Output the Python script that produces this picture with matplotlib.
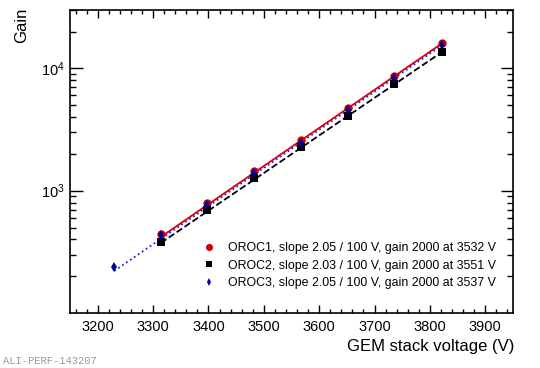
import numpy as np
import matplotlib.pyplot as plt
from matplotlib.ticker import FixedLocator, LogLocator, NullFormatter, MultipleLocator

plt.rcParams['font.family'] = ['Liberation Sans', 'DejaVu Sans']

v_main = [3314, 3398, 3483, 3567, 3652, 3736, 3821]
gain_oroc1 = [445, 793, 1459, 2606, 4765, 8650, 16100]
gain_oroc2 = [382, 695, 1278, 2265, 4066, 7500, 13600]
v_oroc3 = [3230, 3314, 3398, 3483, 3567, 3652, 3736, 3821]
gain_oroc3 = [239, 433, 764, 1405, 2460, 4585, 8400, 15600]

# fit parameters quoted in the legend
slopes = [2.05, 2.03, 2.05]
v_2000 = [3532, 3551, 3537]
labels = ['OROC1, slope 2.05 / 100 V, gain 2000 at 3532 V',
          'OROC2, slope 2.03 / 100 V, gain 2000 at 3551 V',
          'OROC3, slope 2.05 / 100 V, gain 2000 at 3537 V']

fig = plt.figure(figsize=(5.4, 3.68), dpi=100)
ax = fig.add_axes([70/540, 1-313/368, 443/540, 303/368])

series = [(v_main, gain_oroc1), (v_main, gain_oroc2), (v_oroc3, gain_oroc3)]
mark_col = ['#cc0000', 'black', '#000099']
line_col = ['#e00000', 'black', '#2222dd']
line_sty = ['-', '--', ':']
markers = ['o', 's', 'd']
msize = [6, 5.5, 4.8]

for i, (v, g) in enumerate(series):
    vv = np.array([min(v), max(v)])
    fit = 2000 * slopes[i] ** ((vv - v_2000[i]) / 100.0)
    ax.plot(vv, fit, color=line_col[i], ls=line_sty[i], lw=1.3)
for i, (v, g) in enumerate(series):
    ax.plot(v, g, ls='none', marker=markers[i], color=mark_col[i], ms=msize[i],
            mew=0, label=labels[i])

ax.set_yscale('log')
ax.set_xlim(3150, 3950)
ax.set_ylim(100, 30000)
ax.xaxis.set_major_locator(MultipleLocator(100))
ax.xaxis.set_minor_locator(MultipleLocator(20))
ax.yaxis.set_major_locator(FixedLocator([1e3, 1e4]))
ax.yaxis.set_minor_locator(LogLocator(base=10, subs=np.arange(2, 10)))
ax.yaxis.set_minor_formatter(NullFormatter())

ax.tick_params(axis='both', which='both', direction='in', top=True, right=True,
               labelsize=10.5, width=1)
ax.tick_params(axis='x', which='major', length=6)
ax.tick_params(axis='x', which='minor', length=3)
ax.tick_params(axis='y', which='major', length=9)
ax.tick_params(axis='y', which='minor', length=4.5)
ax.tick_params(axis='x', pad=5)
for s in ax.spines.values():
    s.set_linewidth(1.2)

leg = ax.legend(loc='upper left', bbox_to_anchor=(0.286, 0.25), frameon=False,
                fontsize=8.9, handlelength=1.2, handletextpad=0.95,
                labelspacing=0.45, borderaxespad=0, markerscale=0.85)

fig.text(22/540, 1-8/368, 'Gain', rotation=90, ha='center', va='top', fontsize=12)
fig.text(514/540, 1-347/368, 'GEM stack voltage (V)', ha='right', va='center', fontsize=12)
fig.text(3/540, 1-361/368, 'ALI-PERF-143207', family='Liberation Mono', color='#999999',
         fontsize=7.5, ha='left', va='center')

fig.savefig('out.png', dpi=100)
